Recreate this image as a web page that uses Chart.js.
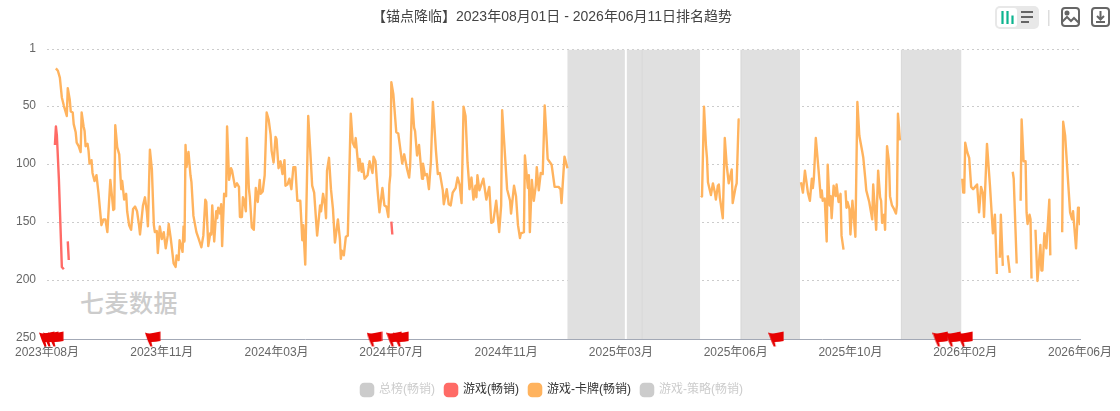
<!DOCTYPE html>
<html>
<head>
<meta charset="utf-8">
<title>排名趋势</title>
<script src="https://cdn.jsdelivr.net/npm/chart.js@4/dist/chart.umd.min.js"></script>
<style>
  html, body { margin: 0; padding: 0; background: #fff; overflow: hidden; }
  #wrap { position: relative; width: 1120px; height: 411px; }
  #rankChart { position: absolute; left: 0; top: 0; }
  .mark { position: absolute; left: 80px; top: 284px; color: #ccc; font: 500 24px "Noto Sans CJK SC", sans-serif; letter-spacing: 0.5px; line-height: 36px; }
  .tool { position: absolute; }
</style>
</head>
<body>
<div id="wrap">
  <div class="mark">七麦数据</div>
  <canvas id="rankChart" width="1120" height="411"></canvas>
  <svg class="tool" style="left:995px;top:6px" width="44" height="23">
    <rect width="44" height="23" rx="5" fill="#e8e8e8"/>
    <rect x="2" y="2" width="20" height="19" rx="3" fill="#fff"/>
    <path d="M7.5 5v13M12.5 5v13M17.5 9.5v8.5" stroke="#0db48f" stroke-width="2.2"/>
    <path d="M26 6h12M26 11h12M26 16h8" stroke="#666" stroke-width="2"/>
  </svg>
  <svg class="tool" style="left:1048px;top:10px" width="2" height="16"><rect width="1.5" height="16" fill="#ddd"/></svg>
  <svg class="tool" style="left:1060px;top:6px" width="21" height="22" fill="none" stroke="#666" stroke-width="2">
    <rect x="2" y="2" width="17" height="18" rx="3"/>
    <path d="M2 16l5-5 4 4 3-3 5 5"/>
    <circle cx="7" cy="7" r="1.5" fill="#666"/>
  </svg>
  <svg class="tool" style="left:1090px;top:6px" width="21" height="22" fill="none" stroke="#666" stroke-width="2">
    <rect x="2" y="2" width="17" height="18" rx="3"/>
    <path d="M10.5 5v8M7 10l3.5 3.5 3.5-3.5M6 16h9"/>
  </svg>
</div>
<script>
const titleText = "【锚点降临】2023年08月01日 - 2026年06月11日排名趋势";
const fontFamily = '"Liberation Sans","Noto Sans CJK SC",sans-serif';

const tickDays = [0, 116, 232, 348, 464, 580, 696, 812, 928, 1044];
const tickLabels = ["2023年08月", "2023年11月", "2024年03月", "2024年07月", "2024年11月", "2025年03月", "2025年06月", "2025年10月", "2026年02月", "2026年06月"];
const rankTicks = [1, 50, 100, 150, 200, 250];

const redDays = [8, 9, 10, 12, 15, 17, 19, 21, 22, 300, 348, 349];
const redRanks = [83, 67, 75, 112, 188, 190, null, 166, 182, null, 149, 160];

const orangeDays = [
  9, 11, 13, 15, 17, 20, 21, 23, 24, 26, 27, 29, 30, 32, 34, 35, 37, 38, 39, 41, 42, 43, 45, 46, 48, 50, 52, 55, 57, 59, 61, 64, 66, 67, 68, 69, 71, 73, 75, 76, 78, 80, 81, 83, 85, 87, 89, 91, 93, 94, 97, 99, 101, 102, 104, 106, 108, 109, 111, 112, 114, 116, 118, 120, 122, 123, 125, 128, 130, 131, 133, 134, 137, 138, 139, 140, 141, 143, 145, 146, 148, 151, 153, 156, 158, 160, 161, 163, 165, 166, 167, 169, 171, 172, 173, 175, 176, 177, 179, 181, 182, 184, 186, 187, 190, 192, 194, 195, 197, 198, 199, 201, 202, 204, 205, 207, 209, 211, 213, 215, 216, 218, 220, 222, 224, 226, 227, 229, 231, 232, 234, 236, 238, 240, 241, 243,
  245, 247, 249, 251, 253, 256, 258, 259, 261, 264, 266, 268, 270, 273, 276, 277, 279, 281, 282, 283, 285, 287, 289, 291, 294, 296, 297, 298, 300, 302, 304, 307, 309, 311, 312, 315, 316, 318, 319, 321, 324, 326, 329, 330, 332, 334, 336, 339, 341, 343, 345, 346, 347, 348, 350, 353, 355, 359, 361, 364, 366, 367, 369, 371, 372, 374, 376, 379, 380, 382, 384, 386, 388, 390, 393, 395, 397, 400, 401, 404, 406, 408, 410, 413, 415, 417, 419, 421, 423, 425, 427, 429, 431, 433, 434, 435, 437, 441, 444, 447, 449, 451, 454, 457, 459, 460, 462, 465, 468, 469, 472, 474, 476, 478, 479, 482, 483, 486, 487, 488, 490, 492, 494, 495, 497, 499, 501, 503, 505, 506, 510, 513, 517, 519, 520, 523, 526,
  530,
  661, 662, 664, 666, 667, 668, 671, 673, 675, 676, 678, 679, 680, 683, 685, 687, 689, 692, 693, 696, 697, 699, 700,
  730,
  762, 764, 766, 769, 771, 773, 774, 775, 777, 780, 782, 783, 784, 786, 788, 789, 791, 792, 793, 795, 797, 798, 800, 802, 803, 805, 806, 807, 808, 809, 811, 812, 814, 817, 819, 821, 824, 825, 827, 828, 831, 834, 835, 838, 840, 842, 843, 844, 846, 847, 849, 851, 852, 854, 856, 858, 859, 860, 862,
  890,
  925, 926, 927, 928, 930, 932, 934, 936, 938, 940, 942, 944, 946, 947, 950, 953, 956, 958, 960, 961, 963, 964, 966, 968, 971, 973, 974, 976, 977, 980, 982, 984, 985, 987, 989, 990, 991, 993, 994, 995, 997, 999, 1001, 1004, 1005, 1006, 1008, 1010, 1013, 1014, 1020, 1026, 1027, 1029, 1032, 1034, 1036, 1037, 1040, 1042, 1043, 1044
];
const orangeRanks = [
  17, 19, 25, 42, 49, 58, 34, 44, 54, 55, 65, 72, 81, 84, 89, 55, 67, 71, 84, 82, 88, 99, 96, 107, 114, 109, 124, 152, 147, 147, 158, 113, 130, 139, 138, 66, 85, 91, 121, 114, 130, 125, 140, 152, 156, 138, 136, 140, 152, 160, 135, 128, 141, 153, 87, 104, 152, 158, 157, 176, 153, 164, 158, 172, 161, 151, 163, 185, 188, 178, 182, 165, 175, 153, 166, 83, 102, 89, 109, 115, 144, 158, 163, 171, 161, 130, 132, 170, 159, 160, 135, 166, 140, 146, 137, 142, 134, 170, 125, 127, 67, 113, 103, 105, 119, 116, 119, 145, 145, 128, 130, 140, 77, 120, 128, 154, 156, 120, 132, 113, 125, 123, 109, 55, 61, 74, 88, 98, 76, 78, 103, 97, 108, 96, 118, 117,
  112, 121, 102, 102, 131, 131, 165, 152, 186, 58, 87, 118, 124, 161, 135, 140, 125, 135, 146, 105, 94, 121, 138, 167, 147, 164, 181, 174, 178, 162, 161, 56, 81, 85, 77, 105, 95, 106, 99, 112, 109, 97, 107, 93, 97, 121, 141, 120, 135, 136, 145, 117, 109, 29, 39, 72, 73, 99, 91, 104, 111, 101, 43, 68, 71, 92, 83, 112, 99, 109, 108, 121, 97, 46, 87, 108, 107, 122, 134, 121, 134, 135, 124, 120, 111, 117, 133, 50, 58, 98, 121, 111, 130, 118, 128, 109, 122, 112, 130, 119, 150, 149, 131, 158, 135, 53, 80, 121, 131, 142, 118, 127, 152, 163, 159, 158, 92, 120, 109, 158, 113, 131, 118, 102, 122, 107, 108, 49, 79, 95, 100, 119, 119, 121, 133, 93, 103,
  null,
  128, 127, 50, 84, 94, 115, 126, 116, 124, 130, 118, 117, 128, 146, 77, 101, 116, 104, 133, 119, 116, 61, 61,
  null,
  115, 124, 105, 124, 131, 112, 120, 112, 77, 107, 128, 122, 131, 129, 166, 100, 135, 127, 146, 118, 127, 117, 132, 125, 161, 173, null, 122, 137, 132, 138, 160, 131, 162, 46, 75, 89, 94, 112, 122, 132, 147, 117, 156, 105, 128, 131, 150, 143, 156, 84, 98, 127, 135, 138, 142, 135, 56, 79,
  null,
  112, 124, 124, 81, 89, 94, 119, 121, 119, 117, 141, 119, 125, 145, 82, 118, 159, 143, 194, null, 180, 143, 187, null, 178, 193, null, 106, 112, 185, null, 131, 61, 97, 97, 141, 151, 143, 147, 198, null, 156, 200, 169, 191, 191, 159, 172, 130, 178, null, 158, 63, 75, 115, 141, 147, 140, 172, 137, 137, 152
];

const flagDays = [0, 4, 9, 107, 331, 351, 358, 737, 903, 916, 928];
const flagRanks = [250, 250, 250, 250, 250, 250, 250, 250, 250, 250, 250];

const bandDays = [[526, 584], [586, 660], [701, 761], [863, 924]];
const seamDays = [601, 701, 863];

const toPoints = (xs, ys) => xs.map((x, i) => ({ x: x, y: ys[i] }));

// little red flag used as the point image
const flagImage = document.createElement("canvas");
flagImage.width = 16;
flagImage.height = 16;
(function () {
  const c = flagImage.getContext("2d");
  c.fillStyle = "#e60000";
  c.beginPath();
  c.moveTo(0, 1.5);
  c.quadraticCurveTo(4, 3, 8, 2);
  c.quadraticCurveTo(12, 1, 15.5, 0.5);
  c.lineTo(15.5, 10);
  c.quadraticCurveTo(11, 11, 6.5, 11);
  c.lineTo(7.5, 15.5);
  c.lineTo(5.5, 15.5);
  c.lineTo(3, 10);
  c.closePath();
  c.fill();
})();

const bandPlugin = {
  id: "bandPlugin",
  beforeDatasetsDraw: (chart) => {
    const ctx = chart.ctx;
    const x = chart.scales.x;
    const area = chart.chartArea;
    ctx.save();
    ctx.fillStyle = "#e0e0e0";
    bandDays.forEach((b) => {
      ctx.fillRect(x.getPixelForValue(b[0]), area.top, x.getPixelForValue(b[1]) - x.getPixelForValue(b[0]), area.bottom - area.top);
    });
    ctx.fillStyle = "#d9d9d9";
    seamDays.forEach((d) => {
      ctx.fillRect(x.getPixelForValue(d), area.top, 1, area.bottom - area.top);
    });
    ctx.restore();
  },
};

const legendColors = {
  "游戏(畅销)": ["#ff6b66", "#333"],
  "游戏-卡牌(畅销)": ["#ffb35e", "#333"],
};

new Chart(document.getElementById("rankChart").getContext("2d"), {
  type: "line",
  data: {
    datasets: [
      { label: "总榜(畅销)", data: [] },
      {
        label: "游戏(畅销)",
        data: toPoints(redDays, redRanks),
        borderColor: "#ff6b66",
        backgroundColor: "#ff6b66",
        borderWidth: 2.4,
        borderJoinStyle: "round",
        pointRadius: 0,
        tension: 0,
      },
      {
        label: "游戏-卡牌(畅销)",
        data: toPoints(orangeDays, orangeRanks),
        borderColor: "#ffb35e",
        backgroundColor: "#ffb35e",
        borderWidth: 2.4,
        borderJoinStyle: "round",
        pointRadius: 0,
        tension: 0,
      },
      { label: "游戏-策略(畅销)", data: [] },
      {
        label: "flags",
        data: toPoints(flagDays, flagRanks),
        showLine: false,
        pointStyle: flagImage,
        pointRadius: 8,
        clip: false,
      },
    ],
  },
  plugins: [bandPlugin],
  options: {
    responsive: false,
    animation: false,
    devicePixelRatio: 1,
    layout: { padding: { left: 0, right: 16, top: 0, bottom: 5 } },
    plugins: {
      tooltip: { enabled: false },
      title: {
        display: true,
        text: titleText,
        color: "#444",
        font: { family: fontFamily, size: 14, weight: "normal" },
        padding: { top: 9, bottom: 24 },
      },
      legend: {
        position: "bottom",
        labels: {
          usePointStyle: true,
          pointStyle: "rectRounded",
          boxWidth: 13,
          boxHeight: 13,
          padding: 10,
          font: { family: fontFamily, size: 12 },
          generateLabels: (chart) =>
            chart.data.datasets
              .filter((d) => d.label !== "flags")
              .map((d) => {
                const c = legendColors[d.label] || ["#ccc", "#ccc"];
                return { text: d.label, fillStyle: c[0], strokeStyle: c[0], lineWidth: 0, fontColor: c[1], pointStyle: "rectRounded" };
              }),
        },
      },
    },
    scales: {
      x: {
        type: "linear",
        min: 0,
        max: 1044,
        grid: { display: false, drawTicks: false },
        border: { color: "#a3a9b6", width: 1 },
        afterBuildTicks: (scale) => {
          scale.ticks = tickDays.map((v) => ({ value: v }));
        },
        afterFit: (scale) => {
          scale.paddingLeft = 0;
          scale.paddingRight = 40;
          scale.height = 35;
        },
        ticks: {
          autoSkip: false,
          maxRotation: 0,
          padding: 6,
          color: "#666",
          font: { family: fontFamily, size: 12 },
          callback: (value) => tickLabels[tickDays.indexOf(value)],
        },
      },
      y: {
        reverse: true,
        min: 1,
        max: 250,
        border: { display: false, dash: [2, 3] },
        grid: {
          drawTicks: false,
          color: (ctx) => (ctx.tick && ctx.tick.value === 250 ? "transparent" : "#ccc"),
        },
        afterBuildTicks: (scale) => {
          scale.ticks = rankTicks.map((v) => ({ value: v }));
        },
        afterFit: (scale) => {
          scale.width = 47;
        },
        ticks: {
          padding: 11,
          labelOffset: -1,
          color: "#666",
          font: { family: fontFamily, size: 12 },
          callback: (value) => value,
        },
      },
    },
  },
});
</script>
</body>
</html>
